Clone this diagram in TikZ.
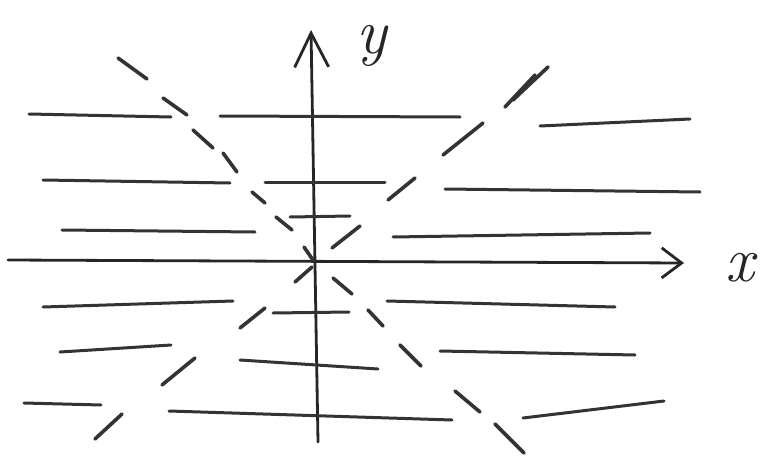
\documentclass[tikz,border=0pt]{standalone}
\usetikzlibrary{arrows.meta}

\begin{document}
\begin{tikzpicture}[
    x=1pt, y=-1pt,
    line cap=round,
    % Define styles for the different strokes
    axisline/.style={line width=2.8pt, draw=black!85},
    flatline/.style={line width=3pt, draw=black!80},
    slopedash/.style={line width=3.6pt, draw=black!80},
    axislabel/.style={font=\fontsize{64}{64}\selectfont\itshape, text=black!85, inner sep=0pt},
]
\useasboundingbox (0,0) rectangle (763,463);

% -------------------------
% Axes
% -------------------------
\coordinate (xstart) at (8,260);
\coordinate (xend) at (684,263);
\coordinate (ystart) at (318,442);
\coordinate (yend) at (311,30);
\draw[axisline, -{Straight Barb[length=20pt, width=30pt]}] (xstart) -- (xend);
\draw[axisline, -{Straight Barb[length=34pt, width=34pt]}] (ystart) -- (yend);
\node (xlabel) [axislabel] at (740,268) {x};
\node (ylabel) [axislabel] at (372,46) {y};

% -------------------------
% Horizontal segments
% -------------------------
\foreach \ax/\ay/\bx/\by in {
    29/114/171/117, 220/116/460/117, 540/126/690/119,
    43/180/230/183, 265/182/385/182, 445/189/700/192,
    290/217/350/216,
    62/230/255/232, 393/237/650/233,
    43/307/233/301, 387/301/615/307,
    273/313/349/312,
    60/352/171/345, 240/360/378/369, 440/351/635/355,
    24/403/101/405, 169/411/452/420, 523/418/664/401}
    \draw[flatline] (\ax,\ay) -- (\bx,\by);

% -------------------------
% Dashed diagonals
% -------------------------
% falling one
\foreach \ax/\ay/\bx/\by in {
    118/58/147/79, 163/98/187/115, 193/130/213/148, 223/153/237/172,
    252/192/265/203, 276/217/292/230, 304/247/313/260, 333/278/352/294,
    368/310/383/326, 400/345/421/366, 455/391/480/412, 495/424/524/453}
    \draw[slopedash] (\ax,\ay) -- (\bx,\by);
% rising one
\foreach \ax/\ay/\bx/\by in {
    95/439/122/414, 162/385/195/358, 240/328/265/308, 295/282/312/267,
    332/248/360/226, 388/200/415/178, 443/155/483/123,
    505/107/535/75, 513/100/548/67}
    \draw[slopedash] (\ax,\ay) -- (\bx,\by);

\end{tikzpicture}
\end{document}
